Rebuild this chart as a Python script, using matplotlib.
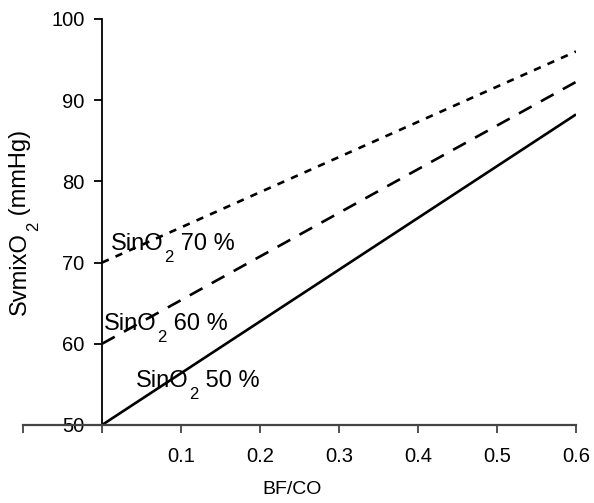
import numpy as np
import matplotlib
matplotlib.use('Agg')
import matplotlib.pyplot as plt
from matplotlib.transforms import IdentityTransform

plt.rcParams['font.family'] = ['Liberation Sans', 'DejaVu Sans']

# BF/CO end points and SvmixO2 values for each inflow saturation
bf_co = [0.0, 0.6]
sv_50 = [50.0, 88.25]
sv_60 = [60.0, 92.25]
sv_70 = [70.0, 96.0]
x_ticks = [-0.1, 0.0, 0.1, 0.2, 0.3, 0.4, 0.5, 0.6]
x_labels = ['', '', '0.1', '0.2', '0.3', '0.4', '0.5', '0.6']
y_ticks = [50, 60, 70, 80, 90, 100]

W, H = 594, 503
fig = plt.figure(figsize=(W / 100, H / 100), dpi=100)
ax = fig.add_axes([23 / W, 1 - 425 / H, (576 - 23) / W, (425 - 19) / H])

ax.plot(bf_co, sv_50, color='black', lw=1.9, solid_capstyle='butt')
ax.plot(bf_co, sv_60, color='black', lw=1.9, dashes=(5.5, 4))
ax.plot(bf_co, sv_70, color='black', lw=1.9, dashes=(2.8, 2.8))

ax.set_xlim(-0.1, 0.6)
ax.set_ylim(50, 100)
ax.spines['top'].set_visible(False)
ax.spines['right'].set_visible(False)
ax.spines['left'].set_position(('data', 0))
ax.spines['left'].set_bounds(50, 100)
ax.spines['bottom'].set_color('#444444')
ax.spines['bottom'].set_linewidth(1.6)
ax.spines['left'].set_linewidth(1.3)

ax.set_xticks(x_ticks)
ax.set_xticklabels(x_labels)
ax.set_yticks(y_ticks)
ax.tick_params(axis='both', direction='out', length=6, labelsize=14.5)
ax.tick_params(axis='x', pad=10, color='#444444', width=1.3)
ax.tick_params(axis='y', pad=6.5, width=1.3)

renderer = fig.canvas.get_renderer()


def label_sub(px, py, head, sub, tail, size=17, subsize=12, drop=12, rot=0):
    # px, py: start of baseline in display pixels
    kw = dict(transform=IdentityTransform(), rotation=rot,
              rotation_mode='anchor', ha='left', va='baseline')
    t = fig.text(px, py, head, fontsize=size, **kw)
    bb = t.get_window_extent(renderer)
    if rot == 0:
        s = fig.text(bb.x1 + 1, py - drop, sub, fontsize=subsize, **kw)
        sb = s.get_window_extent(renderer)
        fig.text(sb.x1, py, tail, fontsize=size, **kw)
    else:
        s = fig.text(px + drop, bb.y1 + 1, sub, fontsize=subsize, **kw)
        sb = s.get_window_extent(renderer)
        fig.text(px, sb.y1, tail, fontsize=size, **kw)


def data_px(x, y):
    return ax.transData.transform((x, y))


for (x, y), pct in zip([(0.011, 71.55), (0.002, 61.7), (0.043, 54.7)],
                       ['70 %', '60 %', '50 %']):
    px, py = data_px(x, y)
    label_sub(px, py, 'SinO', '2', ' ' + pct)

label_sub(26, H - 315, 'SvmixO', '2', ' (mmHg)', rot=90)

fig.text(292 / W, 1 - 489 / H, 'BF/CO', fontsize=14, ha='center', va='center')

fig.savefig('out.png', dpi=100)
